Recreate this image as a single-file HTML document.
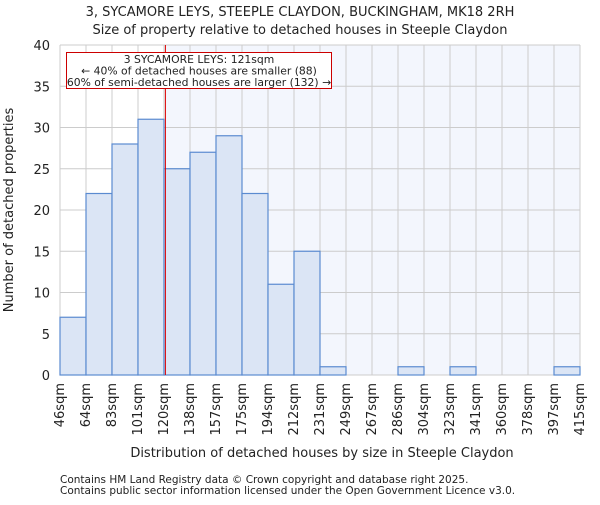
<!DOCTYPE html>
<html><head><meta charset="utf-8"><style>
body{margin:0;background:#fff}
text{font-family:"DejaVu Sans","Liberation Sans",sans-serif;fill:#222}
</style></head><body>
<svg id="c" width="600" height="500" xmlns="http://www.w3.org/2000/svg"></svg>
<script>
const binLabels=["46sqm","64sqm","83sqm","101sqm","120sqm","138sqm","157sqm","175sqm","194sqm","212sqm","231sqm","249sqm","267sqm","286sqm","304sqm","323sqm","341sqm","360sqm","378sqm","397sqm","415sqm"];
const binEdges=[46,64.5,83,101.5,120,138.5,157,175.5,194,212.5,231,249.5,268,286.5,305,323.5,342,360.5,379,397.5,416];
const counts=[7,22,28,31,25,27,29,22,11,15,1,0,0,1,0,1,0,0,0,1];
const yTicks=[0,5,10,15,20,25,30,35,40];
const marker=121;
const NS="http://www.w3.org/2000/svg",svg=document.getElementById('c');
const L=60,R=580,T=45,B=375;
const xs=v=>L+(v-binEdges[0])/(binEdges[binEdges.length-1]-binEdges[0])*(R-L);
const xi=i=>L+i*(R-L)/counts.length;
const ys=v=>B-v/40*(B-T);
function el(t,a,p){const e=document.createElementNS(NS,t);for(const k in a)e.setAttribute(k,a[k]);(p||svg).appendChild(e);return e;}
const mx=xs(marker);
let e=el('rect',{x:mx,y:T,width:R-mx,height:B-T,fill:'#f3f6fd'});


yTicks.forEach(v=>{
 let g=el('line',{x1:L,x2:R,y1:ys(v),y2:ys(v),stroke:'#cccccc'});
 
 
 let t=el('text',{x:L-10,y:ys(v)+5,'text-anchor':'end','font-size':13});t.textContent=v;
 
 
});
binLabels.forEach((s,i)=>{
 const x=xi(i);
 let g=el('line',{x1:x,x2:x,y1:T,y2:B,stroke:'#cccccc'});
 
 
 let t=el('text',{x:x+4,y:B+8,'text-anchor':'end','font-size':13,transform:`rotate(-90 ${x+4} ${B+8})`});t.textContent=s;
 
 
});
counts.forEach((c,i)=>{
 if(c<=0)return;
 let r=el('rect',{x:xi(i),y:ys(c),width:xi(i+1)-xi(i),height:B-ys(c),fill:'#dbe5f5',stroke:'#5b8bd0','stroke-width':1.2});
 
 
});
e=el('line',{x1:mx,x2:mx,y1:T,y2:B,stroke:'#dd0000','stroke-width':1});


e=el('rect',{x:66.5,y:52.5,width:265,height:36,fill:'#fff',stroke:'#cc0000'});


["3 SYCAMORE LEYS: 121sqm","← 40% of detached houses are smaller (88)","60% of semi-detached houses are larger (132) →"].forEach((s,i)=>{
 let t=el('text',{x:199,y:63+i*11.5,'text-anchor':'middle','font-size':10.8});t.textContent=s;
 
 
});
const texts=[[300,16,13,"3, SYCAMORE LEYS, STEEPLE CLAYDON, BUCKINGHAM, MK18 2RH",'chart-title'],[300,34,13,"Size of property relative to detached houses in Steeple Claydon",'chart-subtitle'],[322,457,13,"Distribution of detached houses by size in Steeple Claydon",'x-axis-title'],[60,483,10.5,"Contains HM Land Registry data © Crown copyright and database right 2025.",'footer-line-1'],[60,494,10.5,"Contains public sector information licensed under the Open Government Licence v3.0.",'footer-line-2']];
texts.forEach(([x,y,f,s,n],i)=>{
 let t=el('text',{x,y,'font-size':f,'text-anchor':i<3?'middle':'start'});t.textContent=s;
 
 
});
let yt=el('text',{x:13,y:210,'font-size':13,'text-anchor':'middle',transform:'rotate(-90 13 210)'});yt.textContent="Number of detached properties";


</script>
</body></html>
